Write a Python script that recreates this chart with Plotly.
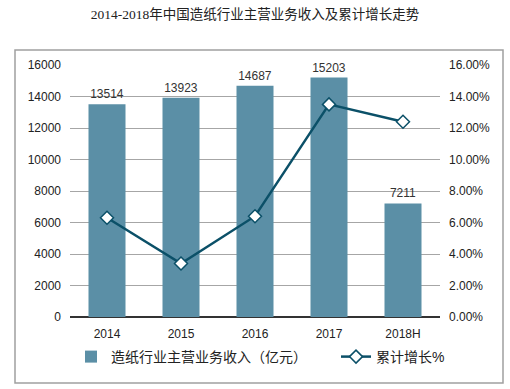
import plotly.graph_objects as go

categories = ["2014", "2015", "2016", "2017", "2018H"]
revenue = [13514, 13923, 14687, 15203, 7211]
growth = [0.063, 0.034, 0.064, 0.135, 0.124]

title_text = "2014-2018年中国造纸行业主营业务收入及累计增长走势"
bar_name = "造纸行业主营业务收入（亿元）"
line_name = "累计增长%"

bar_color = "#5B8FA6"
line_color = "#0B5068"

l, r, t, b = 70, 70, 65, 72
W, H = 510, 389
pw, ph = W - l - r, H - t - b

def px_x(p):
    return (p - l) / pw

def px_y(p):
    return (H - b - p) / ph

fig = go.Figure()
fig.add_trace(go.Bar(
    x=categories, y=revenue, name=bar_name, legend="legend",
    marker=dict(color=bar_color, line=dict(width=0)),
    text=[str(v) for v in revenue], textposition="outside",
    textfont=dict(size=12, color="#333333", family="Liberation Sans, Arial"),
    cliponaxis=False,
))
fig.add_trace(go.Scatter(
    x=categories, y=growth, name=line_name, yaxis="y2", legend="legend2",
    mode="lines+markers",
    line=dict(color=line_color, width=2.5),
    marker=dict(symbol="diamond", size=10, color="white",
                line=dict(color=line_color, width=1.5)),
))

legend_font = dict(size=14, family="Liberation Sans, Noto Sans CJK SC", color="#222222")

fig.update_layout(
    width=W, height=H,
    margin=dict(l=l, r=r, t=t, b=b, autoexpand=False),
    paper_bgcolor="white", plot_bgcolor="white",
    font=dict(family="Liberation Sans, Arial, Noto Sans CJK SC", size=12, color="#333333"),
    title=dict(text=title_text, x=0.5, xanchor="center", y=1 - 14 / H, yanchor="middle",
               font=dict(family="Liberation Serif, Noto Sans CJK SC", size=13.5, color="#222222")),
    bargap=0.5,
    showlegend=True,
    legend=dict(orientation="h", x=px_x(71), xanchor="left", y=px_y(357), yanchor="middle",
                font=legend_font, itemwidth=30, bgcolor="rgba(0,0,0,0)"),
    legend2=dict(orientation="h", x=px_x(336), xanchor="left", y=px_y(357), yanchor="middle",
                 font=legend_font, itemwidth=30, bgcolor="rgba(0,0,0,0)"),
    xaxis=dict(showgrid=False, showline=False, ticks="", ticklabelstandoff=8,
               tickfont=dict(size=12, color="#222222")),
    yaxis=dict(range=[0, 16000], dtick=2000, tickformat="d", showgrid=True,
               gridcolor="#A6A6A6", gridwidth=1,
               zeroline=True, zerolinecolor="#333333", zerolinewidth=1.5,
               showline=False, ticks="", tickfont=dict(size=12, color="#222222"),
               ticklabelstandoff=8),
    yaxis2=dict(range=[0, 0.16], dtick=0.02, tickformat=".2%", overlaying="y", side="right",
                showgrid=False, zeroline=False, showline=False, ticks="",
                tickfont=dict(size=12, color="#222222"), ticklabelstandoff=8),
    shapes=[dict(type="rect", xref="paper", yref="paper",
                 x0=px_x(15), x1=px_x(503), y0=px_y(383), y1=px_y(50),
                 line=dict(color="#A0A0A0", width=1.5), fillcolor="rgba(0,0,0,0)", layer="below")],
)

fig.write_html("out.html", config={"displayModeBar": False},
               post_script="document.body.style.margin='0';document.body.style.overflow='hidden';")
